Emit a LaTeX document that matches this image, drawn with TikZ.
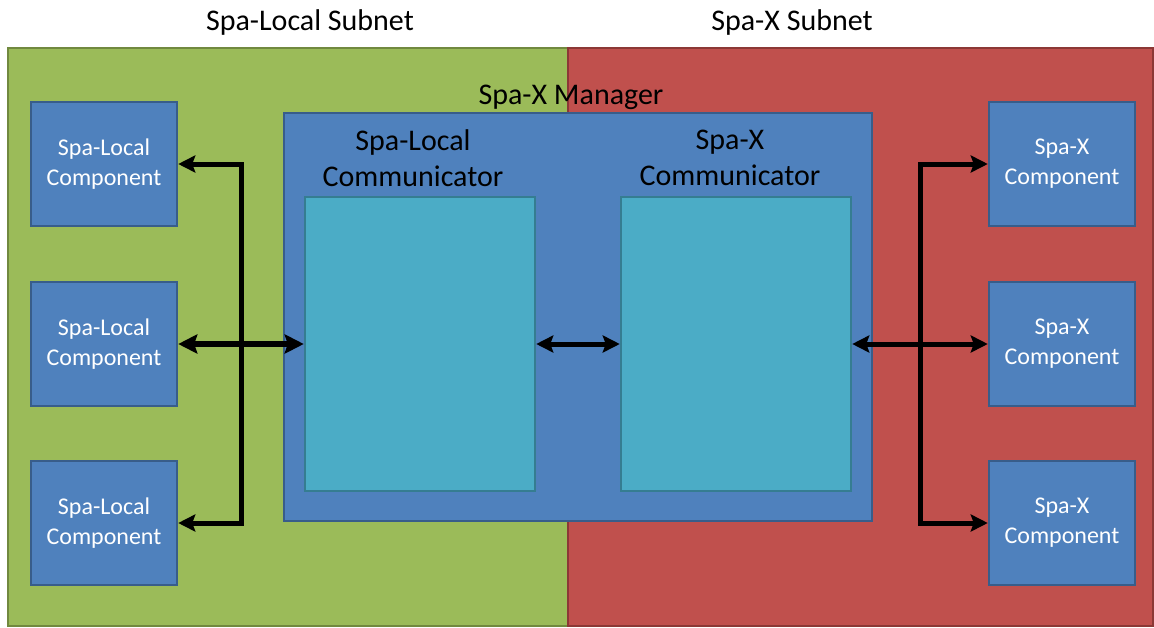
\documentclass[tikz,border=0pt]{standalone}
\usepackage{fontspec}
\setmainfont{Carlito}
\usetikzlibrary{arrows.meta}
\usetikzlibrary{calc}

\definecolor{subgreen}{HTML}{9BBB59}
\definecolor{subgreenedge}{HTML}{71893F}
\definecolor{subred}{HTML}{C0504D}
\definecolor{subrededge}{HTML}{8C3836}
\definecolor{boxblue}{HTML}{4F81BD}
\definecolor{boxblueedge}{HTML}{385D8A}
\definecolor{comcyan}{HTML}{4BACC6}
\definecolor{comcyanedge}{HTML}{357D91}

\tikzset{
    comp/.style={draw=boxblueedge, fill=boxblue, line width=2.5pt,
        minimum width=146pt, minimum height=124pt, align=center,
        text=white, font=\fontsize{24}{30}\selectfont},
    mgr/.style={draw=boxblueedge, fill=boxblue, line width=2.5pt,
        minimum width=588pt, minimum height=408pt},
    combox/.style={draw=comcyanedge, fill=comcyan, line width=2.5pt,
        minimum width=230pt, minimum height=294pt},
    title/.style={font=\fontsize{30}{36}\selectfont, align=center},
    bus/.style={line width=5pt, line cap=rect},
    link/.style={line width=5pt, -{Stealth[length=17pt,width=17pt,inset=3pt]}},
    dlink/.style={line width=5pt, {Stealth[length=17pt,width=17pt,inset=3pt]}-{Stealth[length=17pt,width=17pt,inset=3pt]}},
    biglink/.style={line width=6.5pt, {Stealth[length=19pt,width=19pt,inset=3pt]}-{Stealth[length=19pt,width=19pt,inset=3pt]}}
}

\begin{document}
\begin{tikzpicture}[x=1pt, y=-1pt]
        \useasboundingbox (0,0) rectangle (1154,627);

        %% define points
        \def\Lx{104};
        \def\Rx{1062};
        \def\Ya{164};
        \def\Yb{344};
        \def\Yc{523};

        %% subnets
        \draw[fill=subgreen, draw=subgreenedge, line width=2pt] (8,48) rectangle (568,626);
        \draw[fill=subred, draw=subrededge, line width=2pt] (568,48) rectangle (1153,626);
        \node[title] (lsub) at (310,22) {Spa-Local Subnet};
        \node[title] (xsub) at (792,22) {Spa-X Subnet};

        %% manager and communicators
        \node[mgr] (mgr) at (578,317) {};
        \node[title] (mgrlabel) at (571,97) {Spa-X Manager};
        \node[combox] (lcom) at (420,344) {};
        \node[combox] (xcom) at (736,344) {};
        \node[title] (lcomlabel) at (413,158) {Spa-Local\\Communicator};
        \node[title] (xcomlabel) at (730,158) {Spa-X\\Communicator};

        %% components
        \node[comp] (l1) at (\Lx,\Ya) {Spa-Local\\Component};
        \node[comp] (l2) at (\Lx,\Yb) {Spa-Local\\Component};
        \node[comp] (l3) at (\Lx,\Yc) {Spa-Local\\Component};
        \node[comp] (r1) at (\Rx,\Ya) {Spa-X\\Component};
        \node[comp] (r2) at (\Rx,\Yb) {Spa-X\\Component};
        \node[comp] (r3) at (\Rx,\Yc) {Spa-X\\Component};

        %% buses
        \coordinate (lbustop) at (241,\Ya);
        \coordinate (lbusbot) at (241,\Yc);
        \coordinate (rbustop) at (920,\Ya);
        \coordinate (rbusbot) at (920,\Yc);
        \draw[bus] (lbustop) -- (lbusbot);
        \draw[bus] (rbustop) -- (rbusbot);

        %% arrows
        \draw[link] (lbustop) -- (l1.east);
        \draw[link] (lbusbot) -- (l3.east);
        \draw[biglink] (l2.east) -- (lcom.west);
        \draw[dlink] (lcom.east) -- (xcom.west);
        \draw[dlink] (xcom.east) -- (r2.west);
        \draw[link] (rbustop) -- (r1.west);
        \draw[link] (rbusbot) -- (r3.west);
    \end{tikzpicture}
\end{document}
